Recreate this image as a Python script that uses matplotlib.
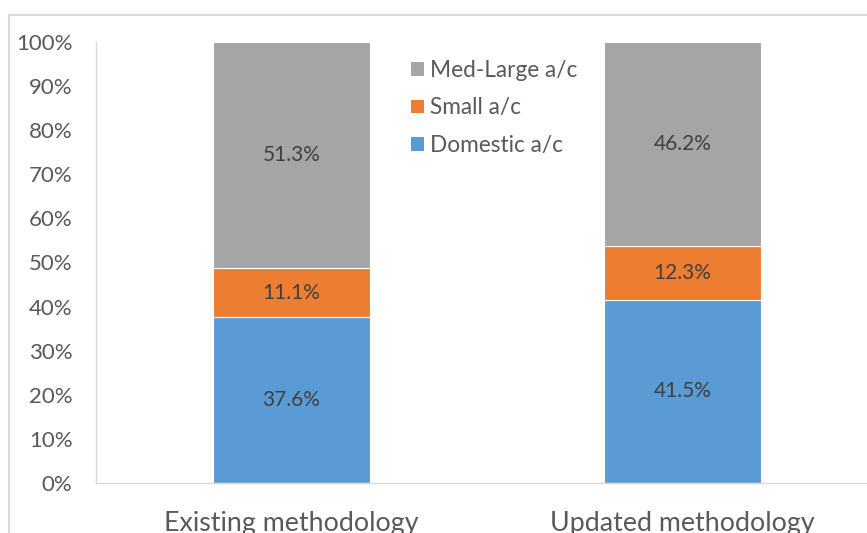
import matplotlib
matplotlib.use("Agg")
import matplotlib.pyplot as plt
from matplotlib.patches import Rectangle
from matplotlib.ticker import PercentFormatter

categories = ["Existing methodology", "Updated methodology"]
domestic = [37.6, 41.5]
small = [11.1, 12.3]
med_large = [51.3, 46.2]
series_names = ["Domestic a/c", "Small a/c", "Med-Large a/c"]
colors = ["#5B9BD5", "#ED7D31", "#A5A5A5"]

plt.rcParams['font.family'] = ['Lato', 'DejaVu Sans']

fig = plt.figure(figsize=(8.67, 5.33), dpi=100)
ax = fig.add_axes([96/867, 1-483/533, 782/867, (483-42)/533])

x = list(range(len(categories)))
bottom = [0]*len(categories)
handles = []
for vals, name, col in zip([domestic, small, med_large], series_names, colors):
    b = ax.bar(x, vals, width=0.4, bottom=bottom, color=col, label=name,
               edgecolor="white", linewidth=0.8)
    handles.append(b)
    for xi, v, bt in zip(x, vals, bottom):
        ax.text(xi, bt + v/2, f"{v:.1f}%", ha="center", va="center",
                fontsize=15, color="#404040")
    bottom = [a + v for a, v in zip(bottom, vals)]

ax.set_xlim(-0.5, 1.5)
ax.set_ylim(0, 100)
ax.set_yticks(range(0, 101, 10))
ax.yaxis.set_major_formatter(PercentFormatter(decimals=0))
ax.set_xticks(x)
ax.set_xticklabels(categories)
ax.tick_params(axis="y", length=0, pad=17, labelsize=16, labelcolor="#595959")
ax.tick_params(axis="x", length=0, pad=20, labelsize=19.3, labelcolor="#595959")
for s in ["top", "right"]:
    ax.spines[s].set_visible(False)
for s in ["left", "bottom"]:
    ax.spines[s].set_color("#D9D9D9")
    ax.spines[s].set_linewidth(1.0)

leg = ax.legend(handles[::-1], series_names[::-1], loc="upper left",
                bbox_to_anchor=(0.377, 1.005), frameon=False, fontsize=16.3,
                handlelength=0.55, handleheight=0.55, handletextpad=0.3,
                labelspacing=0.72, labelcolor="#595959")
for h in leg.legend_handles:
    h.set_edgecolor("none")

fig.patches.append(Rectangle((9/867, -0.1), 2.0, 1.1 - 15/533,
                             transform=fig.transFigure, fill=False,
                             edgecolor="#D9D9D9", linewidth=1.5))

fig.savefig("out.png", dpi=100)
